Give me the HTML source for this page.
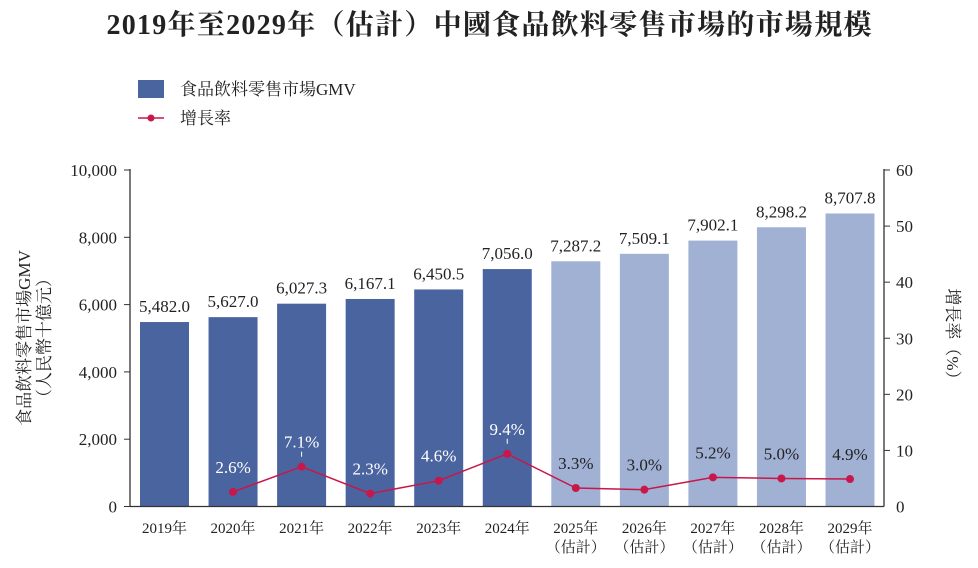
<!DOCTYPE html>
<html><head><meta charset="utf-8"><style>
body{margin:0;background:#fff;width:978px;height:563px;overflow:hidden}
svg text{font-family:"Liberation Serif","Noto Serif CJK SC","Noto Sans CJK TC",serif}
</style></head><body>
<svg width="978" height="563">
<text x="489" y="34" text-anchor="middle" font-size="28" font-weight="bold" fill="#222" textLength="765">2019年至2029年（估計）中國食品飲料零售市場的市場規模</text>
<rect x="138" y="80" width="26" height="18" fill="#4a64a0"/>
<text x="180" y="95" font-size="17" fill="#222">食品飲料零售市場GMV</text>
<line x1="138" y1="118" x2="164" y2="118" stroke="#c8174a" stroke-width="1.5"/>
<circle cx="151" cy="118" r="3.5" fill="#c8174a"/>
<text x="180" y="124" font-size="17" fill="#222">增長率</text>
<text transform="translate(30,338) rotate(-90)" text-anchor="middle" font-size="17" fill="#222">食品飲料零售市場GMV</text>
<text transform="translate(50,338) rotate(-90)" text-anchor="middle" font-size="17" fill="#222">（人民幣十億元）</text>
<text transform="translate(947,338) rotate(90)" text-anchor="middle" font-size="17" fill="#222">增長率（%）</text>
<g id="g"></g>
</svg>
<script>
const categories=["2019年","2020年","2021年","2022年","2023年","2024年","2025年","2026年","2027年","2028年","2029年"];
const estimated=[false,false,false,false,false,false,true,true,true,true,true];
const gmv=[5482.0,5627.0,6027.3,6167.1,6450.5,7056.0,7287.2,7509.1,7902.1,8298.2,8707.8];
const growth=[null,2.6,7.1,2.3,4.6,9.4,3.3,3.0,5.2,5.0,4.9];
const leftTicks=[0,2000,4000,6000,8000,10000];
const rightTicks=[10,20,30,40,50,60];
const NS="http://www.w3.org/2000/svg";
const g=document.getElementById('g');
const X0=130,X1=884,Y0=506.5,Y1=170;
const yL=v=>Y0-(v/10000)*(Y0-Y1);
const yR=v=>Y0-(v/60)*(Y0-Y1);
const xC=i=>164.5+i*68.55;
const BW=49;
function el(t,a,txt){const e=document.createElementNS(NS,t);for(const k in a)e.setAttribute(k,a[k]);if(txt!=null)e.textContent=txt;g.appendChild(e);return e;}
const fmt=v=>v.toLocaleString('en-US',{minimumFractionDigits:1,maximumFractionDigits:1});
gmv.forEach((v,i)=>{
 const b=el('rect',{x:xC(i)-BW/2,y:yL(v),width:BW,height:Y0-yL(v),fill:estimated[i]?'#a0b1d4':'#4a64a0'});
 
 
 const t=el('text',{x:xC(i),y:yL(v)-10,'text-anchor':'middle','font-size':17,fill:'#222'},fmt(v));
 
 
 const c=el('text',{x:xC(i),y:533,'text-anchor':'middle','font-size':15,fill:'#222'},categories[i]);
 
 
 if(estimated[i]){const e=el('text',{x:xC(i),y:552,'text-anchor':'middle','font-size':15,fill:'#222'},'（估計）');
 
 }
});
const ax=el('line',{x1:X0,y1:Y1-1,x2:X0,y2:Y0,stroke:'#333','stroke-width':1.3});


const ax2=el('line',{x1:X1,y1:Y1-1,x2:X1,y2:Y0,stroke:'#333','stroke-width':1.3});


const xa=el('line',{x1:X0,y1:Y0,x2:X1,y2:Y0,stroke:'#333','stroke-width':1.3});


leftTicks.forEach(v=>{
 el('line',{x1:X0-6,y1:yL(v),x2:X0,y2:yL(v),stroke:'#333'});
 const t=el('text',{x:X0-13,y:yL(v)+6,'text-anchor':'end','font-size':17,fill:'#222'},v.toLocaleString('en-US'));
 
 
});
el('text',{x:X1+12,y:Y0+6,'font-size':17,fill:'#222'},'0');
rightTicks.forEach(v=>{
 el('line',{x1:X1,y1:yR(v),x2:X1+6,y2:yR(v),stroke:'#333'});
 const t=el('text',{x:X1+12,y:yR(v)+6,'font-size':17,fill:'#222'},String(v));
 
 
});
let pts=[];growth.forEach((v,i)=>{if(v!=null)pts.push([xC(i),yR(v)]);});
const pl=el('polyline',{points:pts.map(p=>p.join(',')).join(' '),fill:'none',stroke:'#c8174a','stroke-width':1.5});


growth.forEach((v,i)=>{
 if(v==null)return;
 const c=el('circle',{cx:xC(i),cy:yR(v),r:4,fill:'#c8174a'});
 
 
 const t=el('text',{x:xC(i),y:yR(v)-19,'text-anchor':'middle','font-size':17,fill:estimated[i]?'#222':'#fff'},v.toFixed(1)+'%');
 
 
 if(v>7){el('line',{x1:xC(i),y1:yR(v)-15,x2:xC(i),y2:yR(v)-10,stroke:'#fff'});}
});
</script>
</body></html>
